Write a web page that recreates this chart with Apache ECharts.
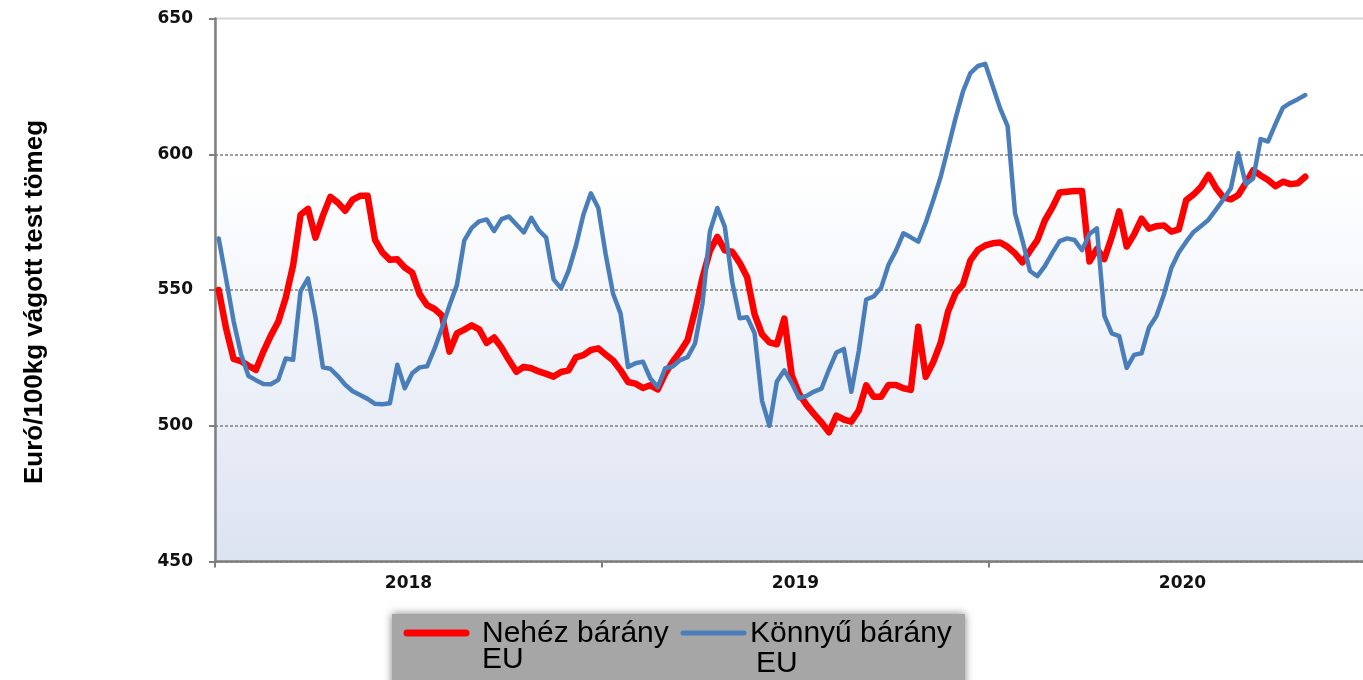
<!DOCTYPE html>
<html>
<head>
<meta charset="utf-8">
<script src="https://cdn.jsdelivr.net/npm/echarts@6/dist/echarts.min.js"></script>
<style>
html,body{margin:0;padding:0;background:#fff;}
#chart{width:1363px;height:680px;}
</style>
</head>
<body>
<div id="chart"></div>
<script>
// ---- data ----
const years = ['2018', '2019', '2020'];
const weeksPerYear = 52;
const yTicks = [450, 500, 550, 600, 650];
const seriesNames = ['Nehéz bárány\nEU', 'Könnyű bárány\n EU'];

// Nehéz bárány EU (weekly, from first week of 2018)
const heavyLamb = [
550,535.7,524.6,523.8,522.1,520.6,527.3,533.2,538.3,547.1,
559.1,577.7,579.9,569.3,577.4,584.3,582.2,579.2,583.3,584.7,
584.7,568.5,563.8,561.1,561.3,558.3,556.4,548.5,544.4,543,
540.6,527.3,534,535.4,537,535.5,530.5,532.5,528.8,524.2,
519.9,521.7,521.2,520,519.1,518.1,519.8,520.4,525.2,526,
527.9,528.5,526.2,524,520.4,516.1,515.5,513.9,514.9,513.4,
519.2,523.6,527.3,531.6,542.4,554.5,564.4,569.6,564.6,564.1,
560,554.7,541,533.7,530.7,530,539.5,518.5,511.7,507.6,
504.3,501.2,497.6,503.7,502.3,501.5,505.6,514.9,510.7,510.7,
515,515,513.8,513.2,536.5,518,523.4,530.5,542.1,548.8,
552,560.9,564.7,566.4,567.2,567.5,565.9,563.5,560.2,564.4,
568.4,575.6,580.3,585.9,586.2,586.5,586.5,560.5,565.1,561.4,
569.6,579,566,570.5,576.3,572.6,573.5,573.8,571.5,572.3,
583.1,585.2,588,592.4,587.6,584.1,583.4,585,589.4,594.1,
592.2,590.5,588.2,589.9,589,589.3,591.7
];

// Könnyű bárány EU
const lightLamb = [
569,554,538.5,526.3,518.3,516.8,515.4,515.3,516.9,524.8,
524.3,549.6,554.3,540,521.5,521,518.3,515.1,512.7,511.3,
509.9,508.1,507.9,508.3,522.5,513.8,519.3,521.5,521.9,528.4,
536,544.3,551.8,568.3,572.9,575.3,576,571.7,576.1,577.1,
574.1,571.2,576.6,572,569.3,553.9,550.6,557,566.3,577.7,
585.6,580.2,563,548.5,541.3,521.6,523,523.6,517.4,514.2,
521.2,521.8,524.2,525.3,530.3,545,571.6,580.2,573.3,552.9,
539.6,540,534.1,509.2,500,516.3,520.4,515.7,510.1,511,
512.6,513.7,520.7,527,528.3,512.5,527.5,546.5,547.6,550.8,
559.3,564.5,570.9,569.4,567.8,574.8,583,591.6,602.3,613.2,
623.1,629.9,632.5,633.3,625.1,616.9,610.4,578.2,568.2,557,
555.1,558.8,563.6,568,569,568.4,564.7,570.6,572.7,540.5,
534,533,521.3,526.1,526.7,536.2,540.4,548.3,558.1,563.8,
567.8,571.4,573.6,575.9,579.6,583.4,587.5,600.4,589,591.1,
605.6,604.7,611.2,617.2,618.9,620.3,621.8
];

const categories = [];
years.forEach(function (y) {
  for (let w = 1; w <= weeksPerYear; w++) categories.push(y + '/' + w);
});

const RED = '#ff0000';
const BLUE = '#4a7ebb';
const AXIS_GRAY = '#7f7f7f';
const LEGEND_FONT = '30px "Liberation Sans", Arial, sans-serif';

const chart = echarts.init(document.getElementById('chart'));
const option = {
  animation: false,
  backgroundColor: '#ffffff',
  grid: {
    left: 215, top: 18.5, bottom: 118.5, right: -13,
    containLabel: false,
    outerBoundsMode: 'none',
    show: true,
    borderColor: '#d6d6d6',
    borderWidth: 2,
    backgroundColor: new echarts.graphic.LinearGradient(0, 0, 0, 1, [
      { offset: 0, color: '#ffffff' },
      { offset: 0.28, color: '#ffffff' },
      { offset: 1, color: '#dce3f1' }
    ])
  },
  xAxis: [
    {
      type: 'category',
      data: categories,
      boundaryGap: true,
      axisLine: { show: true, lineStyle: { color: AXIS_GRAY, width: 2.5 } },
      axisTick: { show: true, interval: weeksPerYear - 1, length: 6, lineStyle: { color: AXIS_GRAY, width: 2 } },
      axisLabel: { show: false },
      splitLine: { show: false }
    },
    {
      type: 'value',
      min: 0,
      max: years.length * weeksPerYear,
      interval: weeksPerYear / 2,
      position: 'bottom',
      axisLine: { show: false },
      axisTick: { show: false },
      splitLine: { show: false },
      axisLabel: {
        margin: 14,
        fontFamily: 'DejaVu Sans',
        fontWeight: 'bold',
        fontSize: 17,
        color: '#111',
        showMinLabel: true,
        showMaxLabel: true,
        formatter: function (v) {
          const k = Math.round(v / (weeksPerYear / 2));
          return (k % 2 === 1) ? years[(k - 1) / 2] : '';
        }
      }
    }
  ],
  yAxis: {
    type: 'value',
    min: yTicks[0],
    max: yTicks[yTicks.length - 1],
    interval: 50,
    axisLine: { show: true, lineStyle: { color: AXIS_GRAY, width: 2.5 } },
    axisTick: { show: true, length: 6, lineStyle: { color: AXIS_GRAY, width: 2 } },
    axisLabel: {
      margin: 22,
      fontFamily: 'DejaVu Sans',
      fontWeight: 'bold',
      fontSize: 17,
      color: '#111'
    },
    splitLine: {
      show: true,
      lineStyle: {
        color: [AXIS_GRAY, AXIS_GRAY, AXIS_GRAY, AXIS_GRAY, 'rgba(0,0,0,0)'],
        width: 1.6,
        type: [3, 2]
      }
    }
  },
  series: [
    {
      name: seriesNames[0],
      type: 'line',
      data: heavyLamb,
      symbol: 'none',
      lineStyle: { color: RED, width: 6.5, cap: 'round', join: 'round' },
      itemStyle: { color: RED },
      z: 2
    },
    {
      name: seriesNames[1],
      type: 'line',
      data: lightLamb,
      symbol: 'none',
      lineStyle: { color: BLUE, width: 4.5, cap: 'round', join: 'round' },
      itemStyle: { color: BLUE },
      z: 3
    }
  ],
  graphic: [
    {
      type: 'text',
      x: 35, y: 302,
      rotation: Math.PI / 2,
      style: {
        text: 'Euró/100kg vágott test tömeg',
        font: 'bold 26px "Liberation Sans", Arial, sans-serif',
        fill: '#000',
        align: 'center',
        verticalAlign: 'middle'
      }
    },
    {
      type: 'rect',
      shape: { x: 392, y: 614, width: 573, height: 90 },
      style: { fill: '#a6a6a6', shadowBlur: 8, shadowColor: 'rgba(0,0,0,0.5)' },
      z: 10
    },
    {
      type: 'line',
      shape: { x1: 407, y1: 633, x2: 466, y2: 633 },
      style: { stroke: RED, lineWidth: 7, lineCap: 'round' },
      z: 11
    },
    {
      type: 'text', x: 482, y: 634, z: 11,
      style: { text: 'Nehéz bárány', font: LEGEND_FONT, fill: '#000', verticalAlign: 'middle' }
    },
    {
      type: 'text', x: 482, y: 660, z: 11,
      style: { text: 'EU', font: LEGEND_FONT, fill: '#000', verticalAlign: 'middle' }
    },
    {
      type: 'line',
      shape: { x1: 683, y1: 633, x2: 744, y2: 633 },
      style: { stroke: BLUE, lineWidth: 5, lineCap: 'round' },
      z: 11
    },
    {
      type: 'text', x: 750, y: 634, z: 11,
      style: { text: 'Könnyű bárány', font: LEGEND_FONT, fill: '#000', verticalAlign: 'middle' }
    },
    {
      type: 'text', x: 756, y: 664, z: 11,
      style: { text: 'EU', font: LEGEND_FONT, fill: '#000', verticalAlign: 'middle' }
    }
  ]
};
chart.setOption(option);
</script>
</body>
</html>
